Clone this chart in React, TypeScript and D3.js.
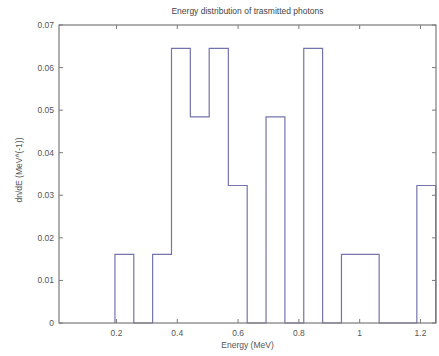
import React from "react";
import * as d3 from "d3";

const binEdges = [0.195, 0.257, 0.319, 0.381, 0.443, 0.505, 0.568, 0.630, 0.692, 0.754, 0.816, 0.878, 0.940, 1.002, 1.064, 1.126, 1.188, 1.250];
const binValues = [0.0161, 0, 0.0161, 0.0645, 0.0484, 0.0645, 0.0323, 0, 0.0484, 0, 0.0645, 0, 0.0161, 0.0161, 0, 0, 0.0323];
const xTicks = [0.2, 0.4, 0.6, 0.8, 1, 1.2];
const yTicks = [0, 0.01, 0.02, 0.03, 0.04, 0.05, 0.06, 0.07];
const title = "Energy distribution of trasmitted photons";
const xLabel = "Energy (MeV)";
const yLabel = "dn/dE (MeV^(-1))";

export default function App() {
  const W = 439, H = 356;
  const left = 59, right = 436, top = 25, bottom = 323;
  const x = d3.scaleLinear().domain([0.011, 1.251]).range([left, right]);
  const y = d3.scaleLinear().domain([0, 0.07]).range([bottom, top]);

  const pts: [number, number][] = [];
  pts.push([binEdges[0], 0]);
  binValues.forEach((v, i) => {
    pts.push([binEdges[i], v]);
    pts.push([binEdges[i + 1], v]);
  });
  pts.push([binEdges[binEdges.length - 1], 0]);
  const line = d3.line<[number, number]>().x(d => x(d[0])).y(d => y(d[1]));

  const axisColor = "#7a7a7a";
  const textColor = "#555";
  const font = "Arial, 'Liberation Sans', sans-serif";
  const tl = 4;

  return (
    <svg width={W} height={H} style={{ position: "absolute", left: 0, top: 0, background: "#fff" }} fontFamily={font}>
      <rect x={0} y={0} width={W} height={H} fill="#fff" />
      <path d={line(pts) || ""} fill="none" stroke="#7474ac" strokeWidth={1.2} />
      <rect x={left} y={top} width={right - left} height={bottom - top} fill="none" stroke={axisColor} strokeWidth={1.2} />
      {xTicks.map(t => (
        <g key={"x" + t}>
          <line x1={x(t)} x2={x(t)} y1={bottom} y2={bottom - tl} stroke={axisColor} />
          <line x1={x(t)} x2={x(t)} y1={top} y2={top + tl} stroke={axisColor} />
          <text x={x(t)} y={336} fontSize={8.5} fill={textColor} textAnchor="middle">{String(t)}</text>
        </g>
      ))}
      {yTicks.map(t => (
        <g key={"y" + t}>
          <line x1={left} x2={left + tl} y1={y(t)} y2={y(t)} stroke={axisColor} />
          <line x1={right} x2={right - tl} y1={y(t)} y2={y(t)} stroke={axisColor} />
          <text x={54} y={y(t) + 3} fontSize={8.5} fill={textColor} textAnchor="end">{String(t)}</text>
        </g>
      ))}
      <text x={(left + right) / 2} y={14} fontSize={8.5} fill="#444" textAnchor="middle">{title}</text>
      <text x={(left + right) / 2} y={348} fontSize={8.5} fill={textColor} textAnchor="middle">{xLabel}</text>
      <text transform={`translate(22,170) rotate(-90)`} fontSize={8.5} fill={textColor} textAnchor="middle">{yLabel}</text>
    </svg>
  );
}
